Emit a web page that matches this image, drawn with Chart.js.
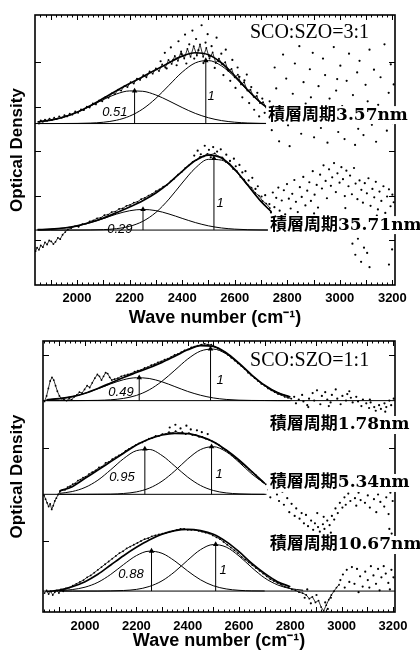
<!DOCTYPE html>
<html>
<head>
<meta charset="utf-8">
<title>Optical density vs wave number</title>
<script src="https://cdn.jsdelivr.net/npm/chart.js@4.4.1/dist/chart.umd.min.js"></script>
<style>
  html, body { margin: 0; padding: 0; background: #fff; }
  body { width: 420px; height: 653px; position: relative; overflow: hidden; }
  canvas { position: absolute; left: 0; }
  #topChart { top: 0; }
  #bottomChart { top: 330px; }
</style>
</head>
<body>
<canvas id="topChart" width="420" height="330"></canvas>
<canvas id="bottomChart" width="420" height="323"></canvas>
<script>
// ---- axes ----
const waveTicks = [2000, 2200, 2400, 2600, 2800, 3000, 3200];
const odTicksTop = [0, 1, 2, 3, 4];
const odTicksBottom = [0, 1, 2];

// ---- upper panel: SCO:SZO = 3:1 ----
// period 3.57 nm (fit, two gaussians, baseline)
const wn357 = [1850, 1900, 1950, 2000, 2050, 2100, 2150, 2200, 2250, 2300, 2350, 2400, 2450, 2500, 2550, 2600, 2650, 2700, 2720];
const fit357 = [2.655, 2.696, 2.767, 2.875, 3.019, 3.186, 3.358, 3.519, 3.672, 3.827, 3.989, 4.135, 4.211, 4.166, 3.981, 3.693, 3.371, 3.085, 2.991];
const low357 = [2.655, 2.696, 2.766, 2.872, 3.009, 3.157, 3.284, 3.353, 3.345, 3.262, 3.128, 2.98, 2.848, 2.75, 2.686, 2.65, 2.632, 2.624, 2.623];
const high357 = [2.62, 2.62, 2.621, 2.623, 2.63, 2.649, 2.694, 2.786, 2.947, 3.185, 3.481, 3.775, 3.983, 4.036, 3.915, 3.663, 3.359, 3.081, 2.988];
const base357 = [[1840, 2.62], [2720, 2.62]];
const peaks357 = [[2219, 3.353], [2490, 4.036]];
const trace357 = [[1855,2.62],[1862,2.69],[1870,2.66],[1878,2.71],[1886,2.68],[1895,2.73],[1904,2.70],[1913,2.75],[1922,2.72],[1932,2.78],[1942,2.75],[1952,2.81],[1962,2.78],[1972,2.84],[1982,2.82],[1993,2.89],[2004,2.86],[2015,2.94],[2026,2.92],[2037,3.00],[2048,2.98],[2060,3.07],[2072,3.05],[2084,3.14],[2096,3.12],[2108,3.22],[2120,3.20],[2132,3.30],[2144,3.28],[2156,3.38],[2168,3.36],[2180,3.46],[2192,3.44],[2204,3.55],[2216,3.52],[2228,3.63],[2240,3.60],[2252,3.71],[2264,3.66],[2276,3.79],[2288,3.74],[2300,3.86],[2312,3.80],[2324,3.95],[2336,3.88],[2348,4.05],[2360,3.96],[2372,4.14],[2384,4.03],[2396,4.24],[2408,4.08],[2420,4.30],[2432,4.12],[2444,4.36],[2456,4.15],[2468,4.40],[2480,4.12],[2492,4.32],[2504,4.08],[2516,4.22],[2528,3.98],[2540,4.08],[2552,3.95],[2564,4.00],[2576,3.80],[2588,3.85],[2600,3.66],[2612,3.72],[2624,3.50],[2636,3.55],[2648,3.36],[2660,3.38],[2672,3.22],[2684,3.24],[2696,3.08],[2708,3.10],[2720,2.98]];
const scatter357 = [[2318,4.02],[2334,4.21],[2341,3.86],[2357,4.33],[2366,4.05],[2379,3.93],[2386,4.47],[2397,4.18],[2411,4.62],[2416,3.97],[2427,4.40],[2439,4.71],[2446,4.08],[2453,4.52],[2462,4.27],[2474,4.83],[2481,3.98],[2489,4.44],[2497,4.63],[2503,4.14],[2512,4.36],[2524,3.87],[2531,4.55],[2538,4.02],[2549,4.19],[2557,3.71],[2566,4.28],[2572,3.84],[2583,3.58],[2591,4.05],[2603,3.42],[2611,3.88],[2618,3.67],[2629,3.21],[2637,3.59],[2646,3.72],[2655,3.08],[2663,3.44],[2674,2.93],[2686,3.31],[2693,2.78],[2705,3.18],[2714,2.86],[2733,3.12],[2741,2.47],[2752,3.88],[2758,3.41],[2769,2.22],[2777,2.96],[2784,4.17],[2796,3.63],[2803,2.58],[2809,2.11],[2821,3.29],[2829,3.97],[2838,2.84],[2846,4.36],[2853,2.39],[2862,3.55],[2870,3.07],[2879,2.66],[2886,3.84],[2897,4.21],[2902,2.31],[2913,2.95],[2919,3.46],[2928,2.52],[2936,4.08],[2944,3.71],[2953,2.19],[2961,3.18],[2969,2.79],[2977,4.34],[2986,3.36],[2994,2.43],[3002,3.92],[3009,3.01],[3018,2.27],[3026,3.58],[3035,4.19],[3043,2.68],[3050,3.26],[3058,2.14],[3066,3.77],[3075,4.03],[3082,2.87],[3090,2.36],[3098,3.49],[3106,3.12],[3113,4.28],[3122,2.59],[3130,3.83],[3138,2.21],[3146,3.04],[3155,3.66],[3162,2.74],[3170,4.40],[3179,2.46],[3186,3.31],[3194,3.95],[3201,2.63],[2790,2.72],[2890,3.21],[2990,3.62],[3070,2.50],[3150,2.90],[3205,3.50]];

// period 35.71 nm
const wn3571 = [1850, 1900, 1950, 2000, 2050, 2100, 2150, 2200, 2250, 2300, 2350, 2400, 2450, 2500, 2550, 2600, 2650, 2700, 2740];
const fit3571 = [0.233, 0.245, 0.271, 0.319, 0.394, 0.494, 0.614, 0.743, 0.885, 1.058, 1.282, 1.546, 1.787, 1.91, 1.844, 1.592, 1.232, 0.87, 0.633];
const low3571 = [0.233, 0.245, 0.271, 0.318, 0.391, 0.484, 0.583, 0.659, 0.689, 0.662, 0.586, 0.488, 0.394, 0.32, 0.272, 0.246, 0.233, 0.228, 0.226];
const high3571 = [0.225, 0.225, 0.225, 0.226, 0.228, 0.235, 0.256, 0.309, 0.421, 0.621, 0.921, 1.283, 1.618, 1.815, 1.797, 1.571, 1.224, 0.867, 0.632];
const base3571 = [[1840, 0.225], [2740, 0.225]];
const peaks3571 = [[2251, 0.689], [2521, 1.835]];
const trace3571 = [[1842,-0.25],[1848,-0.17],[1855,-0.22],[1862,-0.12],[1870,-0.16],[1878,-0.05],[1886,-0.10],[1894,-0.01],[1902,-0.03],[1910,-0.09],[1918,-0.04],[1927,0.05],[1936,0.02],[1945,0.12],[1955,0.18],[1965,0.24],[1978,0.27],[1992,0.31],[2006,0.30],[2020,0.36],[2034,0.37],[2048,0.42],[2062,0.44],[2076,0.49],[2090,0.50],[2104,0.56],[2118,0.57],[2132,0.63],[2146,0.64],[2160,0.70],[2174,0.71],[2188,0.77],[2202,0.79],[2216,0.84],[2230,0.86],[2244,0.92],[2258,0.95],[2272,1.00],[2286,1.04],[2300,1.10],[2314,1.14],[2328,1.20],[2342,1.24],[2356,1.32],[2370,1.38],[2384,1.47],[2398,1.53],[2412,1.62],[2426,1.68],[2440,1.76],[2454,1.80],[2468,1.87],[2482,1.88],[2496,1.94],[2510,1.92],[2524,1.95],[2538,1.88],[2552,1.86],[2566,1.76],[2580,1.72],[2594,1.60],[2608,1.55],[2622,1.42],[2636,1.36],[2650,1.24],[2664,1.18],[2678,1.06],[2692,1.00],[2706,0.88],[2720,0.82],[2734,0.72]];
const scatter3571 = [[2446,1.90],[2459,2.01],[2471,1.93],[2486,2.12],[2502,2.03],[2509,1.86],[2518,2.09],[2533,1.99],[2547,2.04],[2556,1.83],[2568,1.92],[2582,1.78],[2597,1.83],[2604,1.66],[2618,1.69],[2629,1.52],[2641,1.55],[2653,1.34],[2667,1.40],[2679,1.15],[2688,1.21],[2702,0.98],[2716,1.01],[2732,0.81],[2738,0.62],[2745,1.07],[2751,0.74],[2758,0.95],[2766,1.18],[2771,0.66],[2779,0.89],[2787,1.12],[2792,0.58],[2799,1.26],[2806,0.93],[2813,0.71],[2819,1.04],[2827,1.35],[2833,0.86],[2840,0.63],[2848,1.19],[2855,0.97],[2861,1.42],[2869,0.78],[2876,1.11],[2884,1.30],[2890,0.88],[2897,1.55],[2904,1.02],[2912,1.24],[2917,0.73],[2925,1.47],[2932,1.16],[2938,1.68],[2946,1.33],[2951,0.94],[2959,1.59],[2966,1.22],[2971,1.41],[2978,1.73],[2985,1.08],[2991,1.50],[2999,1.29],[3006,1.64],[3012,1.37],[3019,0.99],[3025,1.56],[3033,1.21],[3039,1.45],[3046,1.03],[3054,1.62],[3060,1.27],[3067,0.92],[3075,1.34],[3082,1.13],[3088,0.84],[3095,1.28],[3103,1.05],[3109,1.39],[3117,0.77],[3124,1.15],[3131,0.96],[3137,1.31],[3145,0.69],[3151,1.09],[3158,0.88],[3166,1.21],[3173,0.61],[3180,0.98],[3187,1.14],[3193,0.76],[3200,1.02],[3205,0.85],[2786,0.52],[2902,0.60],[3021,0.72],[3141,0.55],[3048,-0.08],[3059,-0.33],[3069,0.03],[3081,-0.49],[3092,-0.17],[3104,-0.29],[3113,-0.61],[3187,-0.55],[3199,-0.21]];

// ---- lower panel: SCO:SZO = 1:1 ----
// period 1.78 nm
const wn178 = [1850, 1900, 1950, 2000, 2050, 2100, 2150, 2200, 2250, 2300, 2350, 2400, 2450, 2500, 2550, 2600, 2650, 2700, 2750, 2800];
const fit178 = [1.518, 1.53, 1.552, 1.589, 1.64, 1.698, 1.758, 1.811, 1.863, 1.92, 1.987, 2.055, 2.1, 2.092, 2.024, 1.911, 1.784, 1.674, 1.595, 1.548];
const low178 = [1.518, 1.53, 1.552, 1.588, 1.637, 1.689, 1.734, 1.755, 1.747, 1.711, 1.66, 1.608, 1.567, 1.538, 1.522, 1.514, 1.511, 1.51, 1.509, 1.509];
const high178 = [1.509, 1.509, 1.509, 1.51, 1.512, 1.518, 1.533, 1.565, 1.625, 1.718, 1.836, 1.956, 2.042, 2.063, 2.011, 1.906, 1.782, 1.673, 1.595, 1.548];
const base178 = [[1836, 1.509], [3208, 1.509]];
const peaks178 = [[2211, 1.756], [2489, 2.065]];
const trace178 = [[1842,1.50],[1850,1.56],[1857,1.64],[1864,1.72],[1871,1.76],[1878,1.73],[1885,1.67],[1892,1.61],[1900,1.56],[1908,1.53],[1918,1.52],[1928,1.51],[1938,1.53],[1948,1.52],[1958,1.55],[1968,1.57],[1978,1.60],[1988,1.59],[1998,1.63],[2008,1.67],[2018,1.65],[2028,1.70],[2038,1.75],[2048,1.79],[2056,1.77],[2064,1.73],[2072,1.77],[2080,1.81],[2088,1.80],[2096,1.76],[2104,1.73],[2115,1.74],[2128,1.75],[2141,1.77],[2154,1.78],[2167,1.79],[2180,1.80],[2193,1.82],[2206,1.83],[2219,1.84],[2232,1.86],[2245,1.87],[2258,1.89],[2271,1.90],[2284,1.92],[2297,1.93],[2310,1.95],[2323,1.96],[2336,1.98],[2349,2.00],[2362,2.01],[2375,2.03],[2388,2.05],[2401,2.06],[2414,2.08],[2427,2.09],[2440,2.10],[2453,2.11],[2466,2.12],[2479,2.11],[2492,2.11],[2505,2.09],[2518,2.07],[2531,2.05],[2544,2.03],[2557,2.00],[2570,1.97],[2583,1.94],[2596,1.91],[2609,1.88],[2622,1.85],[2635,1.81],[2648,1.78],[2661,1.75],[2674,1.72],[2687,1.69],[2700,1.67],[2713,1.64],[2726,1.62],[2739,1.60],[2752,1.58],[2765,1.57],[2778,1.55],[2791,1.54],[2804,1.53]];
const scatter178 = [[2815,1.55],[2822,1.48],[2833,1.52],[2846,1.57],[2851,1.50],[2866,1.46],[2873,1.53],[2887,1.59],[2893,1.51],[2904,1.62],[2917,1.47],[2923,1.56],[2936,1.60],[2944,1.52],[2957,1.49],[2962,1.57],[2977,1.63],[2983,1.53],[2996,1.47],[3003,1.56],[3017,1.51],[3022,1.58],[3036,1.54],[3043,1.49],[3057,1.55],[3064,1.50],[3077,1.45],[3083,1.52],[3096,1.48],[3107,1.43],[3113,1.49],[3127,1.44],[3133,1.40],[3146,1.46],[3153,1.42],[3167,1.48],[3174,1.44],[3186,1.51],[3193,1.46],[3203,1.53],[2870,1.44],[2950,1.45],[3030,1.61],[3110,1.52],[3170,1.39]];

// period 5.34 nm
const wn534 = [1900, 1950, 2000, 2050, 2100, 2150, 2200, 2250, 2300, 2350, 2400, 2450, 2500, 2550, 2600, 2650, 2700];
const fit534 = [0.538, 0.584, 0.674, 0.763, 0.853, 0.943, 1.032, 1.097, 1.14, 1.158, 1.154, 1.122, 1.068, 0.978, 0.871, 0.746, 0.62];
const low534 = [0.512, 0.532, 0.576, 0.654, 0.766, 0.885, 0.971, 0.984, 0.919, 0.805, 0.687, 0.597, 0.543, 0.517, 0.507, 0.503, 0.502];
const high534 = [0.502, 0.502, 0.502, 0.503, 0.504, 0.511, 0.528, 0.568, 0.643, 0.754, 0.882, 0.983, 1.014, 0.96, 0.847, 0.72, 0.618];
const base534 = [[1836, 0.502], [2707, 0.502]];
const peaks534 = [[2233, 0.989], [2493, 1.015]];
const trace534 = [[1840,0.49],[1846,0.45],[1852,0.41],[1858,0.37],[1864,0.40],[1870,0.34],[1876,0.38],[1882,0.43],[1888,0.46],[1895,0.50],[1902,0.53],[1912,0.55],[1922,0.55],[1932,0.58],[1942,0.59],[1952,0.61],[1962,0.62],[1972,0.65],[1982,0.66],[1992,0.68],[2002,0.69],[2015,0.72],[2028,0.74],[2041,0.76],[2054,0.79],[2067,0.80],[2080,0.84],[2093,0.85],[2106,0.88],[2119,0.90],[2132,0.92],[2145,0.94],[2158,0.97],[2171,0.99],[2184,1.01],[2197,1.03],[2210,1.05],[2223,1.06],[2236,1.08],[2249,1.10],[2262,1.11],[2275,1.13],[2288,1.13],[2301,1.15],[2314,1.15],[2327,1.17],[2340,1.16],[2353,1.18],[2366,1.16],[2379,1.17],[2392,1.15],[2405,1.16],[2418,1.14],[2431,1.14],[2444,1.12],[2457,1.12],[2470,1.10],[2483,1.09],[2496,1.07],[2509,1.05],[2522,1.03],[2535,1.00],[2548,0.98],[2561,0.95],[2574,0.92],[2587,0.89],[2600,0.86],[2613,0.83],[2626,0.80],[2639,0.77],[2652,0.74],[2665,0.71],[2678,0.67],[2691,0.64],[2704,0.61]];
const scatter534 = [[2330,1.22],[2352,1.25],[2372,1.21],[2395,1.24],[2412,1.20],[2436,1.19],[2455,1.17],[2478,1.15],[2715,0.55],[2722,0.47],[2734,0.59],[2748,0.50],[2756,0.43],[2769,0.53],[2775,0.39],[2788,0.46],[2796,0.31],[2805,0.40],[2817,0.27],[2823,0.35],[2836,0.24],[2844,0.30],[2853,0.19],[2861,0.28],[2869,0.16],[2881,0.22],[2889,0.12],[2896,0.19],[2908,0.15],[2915,0.10],[2927,0.18],[2933,0.13],[2944,0.22],[2953,0.17],[2962,0.27],[2971,0.23],[2976,0.35],[2985,0.30],[2993,0.41],[3003,0.36],[3011,0.47],[3016,0.39],[3026,0.51],[3034,0.43],[3041,0.55],[3052,0.46],[3057,0.38],[3066,0.52],[3074,0.44],[3085,0.57],[3091,0.41],[3102,0.49],[3110,0.36],[3117,0.54],[3126,0.45],[3135,0.31],[3142,0.50],[3151,0.42],[3157,0.56],[3166,0.37],[3174,0.47],[3183,0.29],[3190,0.52],[3199,0.43],[3186,0.13],[3195,0.08],[2905,0.30],[2930,0.26],[2958,0.09]];

// period 10.67 nm
const wn1067 = [1850, 1900, 1950, 2000, 2050, 2100, 2150, 2200, 2250, 2300, 2350, 2400, 2450, 2500, 2550, 2600, 2650, 2700, 2750, 2800];
const fit1067 = [-0.545, -0.527, -0.491, -0.437, -0.358, -0.258, -0.158, -0.068, 0.011, 0.072, 0.111, 0.125, 0.111, 0.072, -0.007, -0.115, -0.24, -0.348, -0.437, -0.491];
const wnLow1067 = [1900, 1950, 2000, 2050, 2100, 2150, 2200, 2250, 2300, 2350, 2400, 2450, 2500, 2550, 2600, 2650, 2700];
const low1067 = [-0.533, -0.522, -0.496, -0.444, -0.359, -0.253, -0.157, -0.109, -0.132, -0.215, -0.322, -0.417, -0.481, -0.515, -0.53, -0.536, -0.537];
const wnHigh1067 = [1900, 1950, 2000, 2050, 2100, 2150, 2200, 2250, 2300, 2350, 2400, 2450, 2500, 2550, 2600, 2650, 2700, 2750, 2800, 2850];
const high1067 = [-0.538, -0.538, -0.538, -0.538, -0.536, -0.532, -0.52, -0.489, -0.428, -0.329, -0.206, -0.093, -0.038, -0.065, -0.161, -0.286, -0.397, -0.471, -0.511, -0.529];
const base1067 = [[1836, -0.538], [3208, -0.538]];
const peaks1067 = [[2259, -0.108], [2509, -0.036]];
const trace1067 = [[1842,-0.56],[1850,-0.53],[1858,-0.57],[1866,-0.54],[1874,-0.58],[1882,-0.55],[1890,-0.53],[1898,-0.56],[1906,-0.52],[1915,-0.54],[1925,-0.51],[1938,-0.50],[1952,-0.48],[1966,-0.46],[1980,-0.44],[1994,-0.42],[2008,-0.39],[2022,-0.37],[2036,-0.34],[2050,-0.31],[2064,-0.28],[2078,-0.25],[2092,-0.22],[2106,-0.19],[2120,-0.16],[2134,-0.13],[2148,-0.11],[2162,-0.08],[2176,-0.06],[2190,-0.04],[2204,-0.02],[2218,0.00],[2232,0.02],[2246,0.03],[2260,0.05],[2274,0.06],[2288,0.07],[2302,0.08],[2316,0.09],[2330,0.10],[2344,0.11],[2358,0.12],[2372,0.13],[2386,0.13],[2400,0.12],[2414,0.12],[2428,0.12],[2442,0.11],[2456,0.10],[2470,0.09],[2484,0.08],[2498,0.06],[2512,0.04],[2526,0.02],[2540,-0.01],[2554,-0.04],[2568,-0.07],[2582,-0.10],[2596,-0.13],[2610,-0.17],[2624,-0.20],[2638,-0.23],[2652,-0.26],[2666,-0.29],[2680,-0.32],[2694,-0.35],[2708,-0.38],[2722,-0.41],[2736,-0.43],[2750,-0.45],[2764,-0.47],[2778,-0.49],[2792,-0.50],[2806,-0.52],[2820,-0.53],[2834,-0.55],[2848,-0.56],[2862,-0.58],[2874,-0.62],[2886,-0.60],[2898,-0.66],[2910,-0.64],[2920,-0.71],[2930,-0.75],[2940,-0.69],[2950,-0.63],[2960,-0.58],[2970,-0.54],[2980,-0.50],[2990,-0.47]];
const scatter1067 = [[2995,-0.42],[3005,-0.36],[3012,-0.50],[3020,-0.31],[3030,-0.44],[3040,-0.28],[3050,-0.46],[3060,-0.30],[3066,-0.55],[3072,-0.38],[3082,-0.49],[3092,-0.33],[3102,-0.42],[3108,-0.50],[3114,-0.27],[3124,-0.37],[3134,-0.46],[3142,-0.30],[3148,-0.53],[3155,-0.39],[3164,-0.27],[3172,-0.35],[3182,-0.45],[3188,-0.52],[3194,-0.31],[3202,-0.39],[2856,-0.61],[2880,-0.67],[2902,-0.58],[2924,-0.79],[2936,-0.66],[2946,-0.73],[2958,-0.61],[2866,-0.52]];

(function() {
    const INK = '#000';
    const SANS = '"Liberation Sans", Arial, sans-serif';
    const LABEL_FONT = 'bold 17px "DejaVu Serif", "Noto Sans CJK JP", serif';
    const RATIO_FONT = 'italic 13px ' + SANS;
    const TITLE_FONT = '20px "Liberation Serif", serif';

    // Helper: zip x and y arrays into {x, y} points
    function pts(xs, ys) {
        return xs.map((x, i) => ({ x: x, y: ys[i] }));
    }
    function pairs(list) {
        return list.map(p => ({ x: p[0], y: p[1] }));
    }

    // Smooth fitted curve
    function curve(xs, ys, width) {
        return {
            data: pts(xs, ys),
            borderColor: INK,
            borderWidth: width,
            pointRadius: 0,
            cubicInterpolationMode: 'monotone',
            fill: false
        };
    }

    // Straight baseline
    function flat(list) {
        return { data: pairs(list), borderColor: INK, borderWidth: 1, pointRadius: 0, fill: false };
    }

    // Measured points drawn as a jagged trace
    function trace(list) {
        return {
            data: pairs(list),
            borderColor: INK,
            borderWidth: 0.8,
            pointRadius: 0.9,
            pointBorderWidth: 0,
            pointBackgroundColor: INK,
            tension: 0,
            fill: false
        };
    }

    // Loose measured points
    function dots(list) {
        return {
            data: pairs(list),
            showLine: false,
            pointRadius: 1.1,
            pointBorderWidth: 0,
            pointBackgroundColor: INK
        };
    }

    // Vertical arrow from baseline up to a component peak
    function arrows(peaks, base) {
        return peaks.map(p => ({
            data: [{ x: p[0], y: base }, { x: p[0], y: p[1] }],
            borderColor: INK,
            borderWidth: 1,
            pointRadius: [0, 3.2],
            pointStyle: 'triangle',
            pointBorderWidth: 0,
            pointBackgroundColor: INK,
            fill: false
        }));
    }

    // Frame with inward tick marks on all four sides
    const framePlugin = {
        id: 'frame',
        afterDatasetsDraw(chart, args, opts) {
            const { ctx, chartArea: a, scales: { x, y } } = chart;
            ctx.save();
            ctx.strokeStyle = INK;
            ctx.lineWidth = 1.6;
            ctx.strokeRect(a.left, a.top, a.right - a.left, a.bottom - a.top);
            ctx.lineWidth = 1;
            ctx.beginPath();
            for (let v = 1840; v <= 3200; v += 20) {
                const px = Math.round(x.getPixelForValue(v)) + 0.5;
                if (px <= a.left + 1 || px >= a.right - 1) continue;
                const len = v % 100 === 0 ? 5 : 2.5;
                ctx.moveTo(px, a.bottom);
                ctx.lineTo(px, a.bottom - len);
                ctx.moveTo(px, a.top);
                ctx.lineTo(px, a.top + len);
            }
            opts.yTicks.forEach(v => {
                const py = Math.round(y.getPixelForValue(v)) + 0.5;
                ctx.moveTo(a.left, py);
                ctx.lineTo(a.left + 6, py);
                ctx.moveTo(a.right, py);
                ctx.lineTo(a.right - 6, py);
            });
            ctx.stroke();
            ctx.restore();
        }
    };

    // Text annotations placed in data coordinates
    const notesPlugin = {
        id: 'notes',
        afterDraw(chart, args, opts) {
            const { ctx, scales: { x, y } } = chart;
            opts.items.forEach(n => {
                ctx.save();
                ctx.font = n.font;
                ctx.textAlign = n.align || 'center';
                ctx.textBaseline = 'middle';
                const px = x.getPixelForValue(n.at[0]);
                const py = y.getPixelForValue(n.at[1]);
                if (n.knockout) {
                    const w = ctx.measureText(n.text).width;
                    ctx.fillStyle = '#fff';
                    ctx.fillRect(px - 2, py - 9, w + 4, 18);
                }
                ctx.fillStyle = INK;
                ctx.fillText(n.text, px, py);
                ctx.restore();
            });
        }
    };

    function makeChart(id, cfg) {
        return new Chart(document.getElementById(id), {
            type: 'line',
            data: { datasets: cfg.datasets },
            options: {
                responsive: false,
                animation: false,
                devicePixelRatio: 1,
                events: [],
                layout: { padding: { top: cfg.top, right: 25, left: 0, bottom: 0 } },
                plugins: {
                    legend: { display: false },
                    tooltip: { enabled: false },
                    frame: { yTicks: cfg.yTicks },
                    notes: { items: cfg.notes }
                },
                scales: {
                    x: {
                        type: 'linear',
                        min: cfg.xMin,
                        max: cfg.xMax,
                        grid: { display: false, drawTicks: false },
                        border: { display: false },
                        afterBuildTicks: s => { s.ticks = waveTicks.map(v => ({ value: v })); },
                        afterFit: s => { s.height = cfg.xHeight; },
                        ticks: {
                            color: INK,
                            padding: cfg.tickPad,
                            maxRotation: 0,
                            autoSkip: false,
                            font: { family: SANS, size: 13, weight: 'bold' },
                            callback: v => String(v)
                        },
                        title: {
                            display: true,
                            text: 'Wave number (cm⁻¹)',
                            color: INK,
                            font: { family: SANS, size: 18, weight: 'bold' },
                            padding: { top: 0, bottom: 1 }
                        }
                    },
                    y: {
                        type: 'linear',
                        min: cfg.yMin,
                        max: cfg.yMax,
                        grid: { display: false, drawTicks: false },
                        border: { display: false },
                        ticks: { display: false },
                        afterFit: s => { s.width = cfg.yWidth; },
                        title: {
                            display: true,
                            text: 'Optical Density',
                            color: INK,
                            font: { family: SANS, size: 17, weight: 'bold' },
                            padding: 7
                        }
                    }
                }
            },
            plugins: [framePlugin, notesPlugin]
        });
    }

    // Upper panel
    makeChart('topChart', {
        top: 15, xHeight: 45, yWidth: 35, tickPad: 6,
        xMin: 1840, xMax: 3210, yMin: -1.01, yMax: 5.06,
        yTicks: odTicksTop,
        datasets: [
            flat(base357), flat(base3571),
            curve(wn357, low357, 1), curve(wn357, high357, 1), curve(wn357, fit357, 1.7),
            curve(wn3571, low3571, 1), curve(wn3571, high3571, 1), curve(wn3571, fit3571, 1.7),
            ...arrows(peaks357, base357[0][1]), ...arrows(peaks3571, base3571[0][1]),
            trace(trace357), dots(scatter357), trace(trace3571), dots(scatter3571)
        ],
        notes: [
            { text: 'SCO:SZO=3:1', at: [2658, 4.66], font: TITLE_FONT, align: 'left' },
            { text: '積層周期3.57nm', at: [2727, 2.81], font: LABEL_FONT, align: 'left', knockout: true },
            { text: '積層周期35.71nm', at: [2734, 0.337], font: LABEL_FONT, align: 'left', knockout: true },
            { text: '0.51', at: [2144, 2.876], font: RATIO_FONT },
            { text: '1', at: [2510, 3.24], font: RATIO_FONT },
            { text: '0.29', at: [2163, 0.247], font: RATIO_FONT },
            { text: '1', at: [2544, 0.83], font: RATIO_FONT }
        ]
    });

    // Lower panel
    makeChart('bottomChart', {
        top: 11, xHeight: 41, yWidth: 43, tickPad: 7,
        xMin: 1836, xMax: 3208, yMin: -0.763, yMax: 2.15,
        yTicks: odTicksBottom,
        datasets: [
            flat(base178), flat(base534), flat(base1067),
            curve(wn178, low178, 1), curve(wn178, high178, 1), curve(wn178, fit178, 1.7),
            curve(wn534, low534, 1), curve(wn534, high534, 1), curve(wn534, fit534, 1.7),
            curve(wnLow1067, low1067, 1), curve(wnHigh1067, high1067, 1), curve(wn1067, fit1067, 1.7),
            ...arrows(peaks178, base178[0][1]), ...arrows(peaks534, base534[0][1]), ...arrows(peaks1067, base1067[0][1]),
            trace(trace178), dots(scatter178), trace(trace534), dots(scatter534), trace(trace1067), dots(scatter1067)
        ],
        notes: [
            { text: 'SCO:SZO=1:1', at: [2643, 1.935], font: TITLE_FONT, align: 'left' },
            { text: '積層周期1.78nm', at: [2720, 1.247], font: LABEL_FONT, align: 'left', knockout: true },
            { text: '積層周期5.34nm', at: [2720, 0.624], font: LABEL_FONT, align: 'left', knockout: true },
            { text: '積層周期10.67nm', at: [2720, -0.043], font: LABEL_FONT, align: 'left', knockout: true },
            { text: '0.49', at: [2140, 1.60], font: RATIO_FONT },
            { text: '1', at: [2526, 1.73], font: RATIO_FONT },
            { text: '0.95', at: [2144, 0.688], font: RATIO_FONT },
            { text: '1', at: [2522, 0.72], font: RATIO_FONT },
            { text: '0.88', at: [2179, -0.355], font: RATIO_FONT },
            { text: '1', at: [2538, -0.32], font: RATIO_FONT }
        ]
    });
})();
</script>
</body>
</html>
